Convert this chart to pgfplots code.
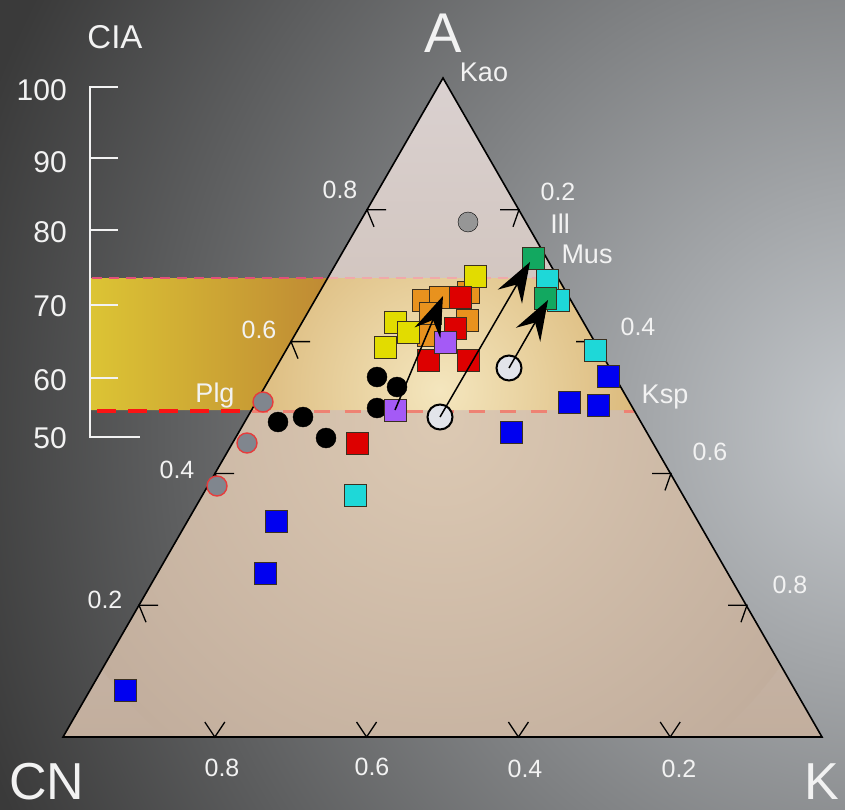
\documentclass[border=0pt]{standalone}
\usepackage{pgfplots}
\pgfplotsset{compat=1.18}
\usetikzlibrary{arrows.meta}
\usepackage{fontspec}
\setmainfont{Liberation Sans}

\definecolor{bgdark}{HTML}{3A3A3A}
\definecolor{bglight}{HTML}{C6CACE}
\definecolor{triTop}{HTML}{DAD1D0}
\definecolor{triBot}{HTML}{C2AE9D}
\definecolor{glow}{HTML}{DCC9B3}
\definecolor{bandIn}{HTML}{F4E6BE}
\definecolor{bandOut}{HTML}{CC9E52}
\definecolor{goldL}{HTML}{DCC434}
\definecolor{goldR}{HTML}{BF8A34}
\definecolor{labelwhite}{HTML}{F2F2F2}
\definecolor{mYellow}{HTML}{E2DC00}
\definecolor{mOrange}{HTML}{E8921E}
\definecolor{mRed}{HTML}{DD0000}
\definecolor{mPurple}{HTML}{A45AF6}
\definecolor{mGreen}{HTML}{12A860}
\definecolor{mCyan}{HTML}{1ED8D8}
\definecolor{mBlue}{HTML}{0000F0}
\definecolor{mEdge}{HTML}{3A3020}

\tikzset{
  lbl/.style={text=labelwhite, inner sep=0pt, font=\fontsize{25}{30}\selectfont},
  sq/.style={only marks, mark=square*, mark size=11pt,
    mark options={draw=mEdge, line width=0.8pt, fill=#1}},
  tk/.style={black, line width=1.3pt},
  cia/.style={labelwhite, line width=1.6pt},
  trend/.style={black, line width=1.5pt, no marks,
    -{Stealth[length=40pt, width=28pt, inset=14pt]}},
}

\begin{document}
\begin{tikzpicture}
\begin{axis}[
  scale only axis, width=845pt, height=810pt,
  xmin=0, xmax=845, ymin=0, ymax=810, y dir=reverse,
  hide axis, clip=true, clip marker paths=true,
]
% backdrop
\fill[bgdark] (0,0) rectangle (845,810);
\shade[inner color=bglight, outer color=bgdark] (880,430) circle[radius=950];

% ternary field
\shade[top color=triTop, bottom color=triBot] (63,737) -- (822,737) -- (443,78) -- cycle;
\begin{scope}
  \clip (63,737) -- (822,737) -- (443,78) -- cycle;
  \clip (0,410) rectangle (845,810);
  \shade[inner color=glow, outer color=triBot] (440,420) circle[radius=420];
\end{scope}

% CIA band
\shade[left color=goldL, right color=goldR] (90,278) -- (327.7,278) -- (251.6,410) -- (90,410) -- cycle;
\begin{scope}
  \clip (327.7,278) -- (558.3,278) -- (634.4,410) -- (251.6,410) -- cycle;
  \shade[inner color=bandIn, outer color=bandOut] (440,390) circle[radius=320];
\end{scope}
\draw[color={rgb,255:red,226;green,80;blue,120}, line width=1.6pt, dash pattern=on 10pt off 7pt] (92,278) -- (327.7,278);
\draw[color={rgb,255:red,240;green,170;blue,170}, line width=1.4pt, dash pattern=on 10pt off 7pt] (327.7,278) -- (558.3,278);
\draw[color={rgb,255:red,250;green,20;blue,20}, line width=3.5pt, dash pattern=on 19pt off 12pt] (97,411) -- (251.6,411);
\draw[color={rgb,255:red,238;green,130;blue,115}, line width=3pt, dash pattern=on 16pt off 15pt] (251.6,411) -- (634.4,411);

% triangle outline
\draw[black, line width=1.6pt, line join=miter] (63,737) -- (822,737) -- (443,78) -- cycle;

% edge ticks: A side (left), K side (right), base
\draw[tk] (158,605.2) -- (139,605.2) -- (146,622.2);
\draw[tk] (234,473.4) -- (215,473.4) -- (222,490.4);
\draw[tk] (310,341.6) -- (291,341.6) -- (298,358.6);
\draw[tk] (386,209.8) -- (367,209.8) -- (374,226.8);
\draw[tk] (500,209.8) -- (519,209.8) -- (513,226.8);
\draw[tk] (576,341.6) -- (595,341.6) -- (589,358.6);
\draw[tk] (652,473.4) -- (671,473.4) -- (665,490.4);
\draw[tk] (728,605.2) -- (747,605.2) -- (741,622.2);
\draw[tk] (204.8,722) -- (214.8,737) -- (224.8,722);
\draw[tk] (356.6,722) -- (366.6,737) -- (376.6,722);
\draw[tk] (508.4,722) -- (518.4,737) -- (528.4,722);
\draw[tk] (660.2,722) -- (670.2,737) -- (680.2,722);

% CIA scale
\draw[cia] (118,87) -- (90,87) -- (90,437) -- (140,437);
\draw[cia] (90,158) -- (118,158);
\draw[cia] (90,230) -- (118,230);
\draw[cia] (90,305) -- (118,305);
\draw[cia] (90,378) -- (118,378);
\node[lbl, font=\fontsize{30}{36}\selectfont, anchor=east] at (67,90) {100};
\node[lbl, font=\fontsize{30}{36}\selectfont, anchor=east] at (67,162) {90};
\node[lbl, font=\fontsize{30}{36}\selectfont, anchor=east] at (67,232) {80};
\node[lbl, font=\fontsize{30}{36}\selectfont, anchor=east] at (67,306) {70};
\node[lbl, font=\fontsize{30}{36}\selectfont, anchor=east] at (67,380) {60};
\node[lbl, font=\fontsize{30}{36}\selectfont, anchor=east] at (67,438) {50};
\node[lbl, font=\fontsize{33}{40}\selectfont] at (115,37) {CIA};

% corner and mineral labels
\node[lbl, font=\fontsize{56}{60}\selectfont] at (443,33) {A};
\node[lbl, font=\fontsize{52}{56}\selectfont] at (47,782) {CN};
\node[lbl, font=\fontsize{52}{56}\selectfont] at (822,782) {K};
\node[lbl, font=\fontsize{27}{30}\selectfont] at (484,72) {Kao};
\node[lbl, font=\fontsize{27}{30}\selectfont] at (560,224) {Ill};
\node[lbl, font=\fontsize{27}{30}\selectfont] at (587,254) {Mus};
\node[lbl, font=\fontsize{27}{30}\selectfont] at (665,397) {Ksp};
\node[lbl, font=\fontsize{27}{30}\selectfont] at (215,396) {Plg};

% tick labels
\node[lbl] at (340,190) {0.8};
\node[lbl] at (259,330) {0.6};
\node[lbl] at (177,470) {0.4};
\node[lbl] at (105,600) {0.2};
\node[lbl] at (558,192) {0.2};
\node[lbl] at (638,327) {0.4};
\node[lbl] at (710,452) {0.6};
\node[lbl] at (790,585) {0.8};
\node[lbl] at (222,768) {0.8};
\node[lbl] at (372,767) {0.6};
\node[lbl] at (525,769) {0.4};
\node[lbl] at (679,769) {0.2};

% samples
\addplot[only marks, mark=*, mark size=10pt, mark options={draw=none, fill={rgb,255:red,150;green,150;blue,150}}]
  coordinates {(468,222)};
\addplot[only marks, mark=*, mark size=10pt, mark options={draw={rgb,255:red,230;green,60;blue,60}, line width=1.4pt, fill={rgb,255:red,128;green,134;blue,142}}]
  coordinates {(263,402) (247,443) (217,486)};
\addplot[only marks, mark=*, mark size=10pt, mark options={draw=black, fill=black}]
  coordinates {(377,377) (397,387) (377,408) (278,422) (303,417) (326,438)};
\addplot[sq=mOrange] coordinates {(423,300) (440,297) (468,292) (430,313) (467,320) (428,335)};
\addplot[sq=mYellow] coordinates {(475,276) (395,322) (408,332) (385,347)};
\addplot[sq=mRed] coordinates {(460,297) (455,328) (428,360) (468,360) (357,443)};
\addplot[sq=mPurple] coordinates {(445,342) (395,410)};
\addplot[sq=mCyan] coordinates {(547,280) (558,300) (595,350) (355,495)};
\addplot[sq=mGreen] coordinates {(533,258) (545,298)};
\addplot[sq=mBlue] coordinates {(608,376) (569,402) (598,405) (511,432) (276,521) (265,573) (125,690)};
\addplot[only marks, mark=*, mark size=12.5pt, mark options={draw=black, line width=2pt, fill={rgb,255:red,226;green,228;blue,234}}]
  coordinates {(440,417) (509,368)};

% weathering trends
\addplot[trend] coordinates {(395,410) (443,296)};
\addplot[trend] coordinates {(440,417) (530,262)};
\addplot[trend] coordinates {(509,368) (548,300)};
\end{axis}
\end{tikzpicture}
\end{document}
